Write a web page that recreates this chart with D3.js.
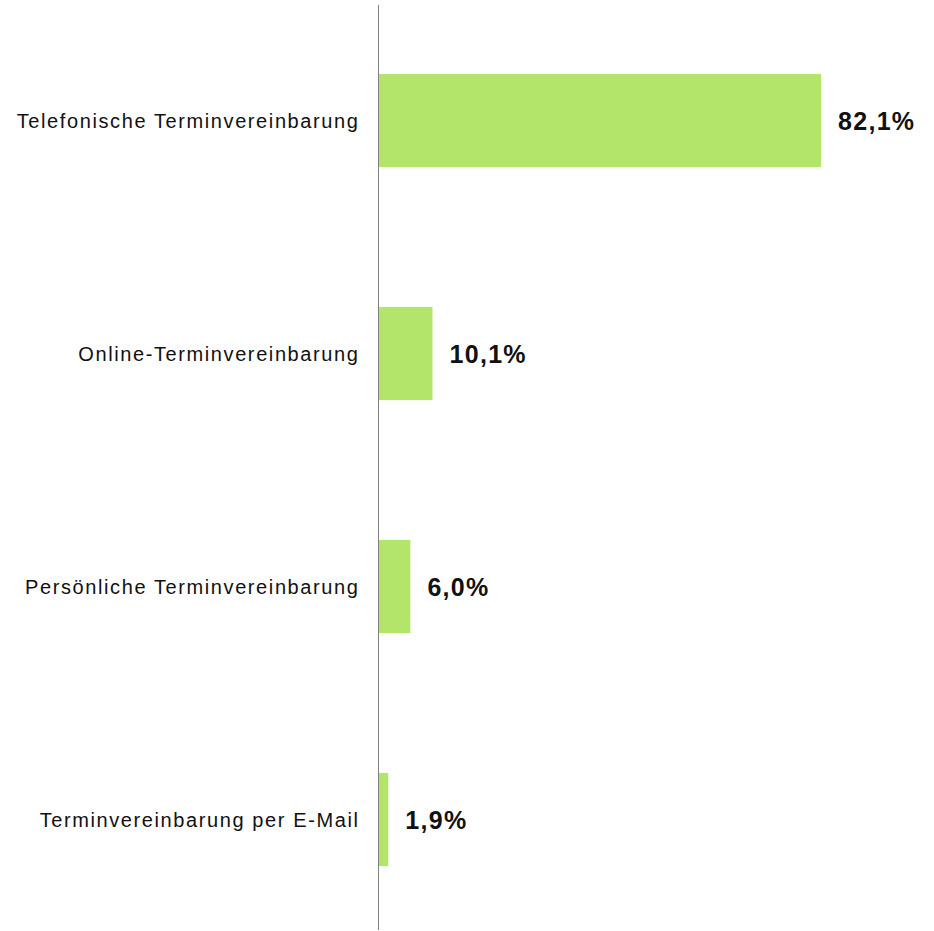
<!DOCTYPE html>
<html>
<head>
<meta charset="utf-8">
<script src="https://cdn.jsdelivr.net/npm/d3@7"></script>
<style>
  body { margin: 0; background: #fff; }
  text { font-family: "Liberation Sans", Arial, sans-serif; }
</style>
</head>
<body>
<div id="chart"></div>
<script>
// data
var categories = [
  "Telefonische Terminvereinbarung",
  "Online-Terminvereinbarung",
  "Persönliche Terminvereinbarung",
  "Terminvereinbarung per E-Mail"
];
var values = [82.1, 10.1, 6.0, 1.9];

var width = 934, height = 931;
var axisX = 378;

var svg = d3.select("#chart").append("svg")
  .attr("width", width)
  .attr("height", height);

var x = d3.scaleLinear()
  .domain([0, 100])
  .range([axisX, axisX + 539.6]);

var y = d3.scaleBand()
  .domain(categories)
  .range([4, 936])
  .paddingInner(0.6)
  .paddingOuter(0.3);

var data = categories.map(function(c, i) { return {cat: c, val: values[i]}; });

svg.selectAll(".bar")
  .data(data)
  .enter().append("rect")
  .attr("class", "bar")
  .attr("x", x(0))
  .attr("y", function(d) { return y(d.cat); })
  .attr("width", function(d) { return x(d.val) - x(0); })
  .attr("height", y.bandwidth())
  .attr("fill", "#b3e56b");

// vertical axis line
svg.append("line")
  .attr("x1", axisX + 0.5).attr("x2", axisX + 0.5)
  .attr("y1", 5).attr("y2", 930)
  .attr("stroke", "#7f7f7f")
  .attr("stroke-width", 1);

// category labels
svg.selectAll(".cat")
  .data(data)
  .enter().append("text")
  .attr("class", "cat")
  .attr("x", axisX - 18.5)
  .attr("y", function(d) { return y(d.cat) + y.bandwidth() / 2; })
  .attr("dy", "0.36em")
  .attr("text-anchor", "end")
  .style("font-size", "20px")
  .style("letter-spacing", "1.6px")
  .attr("fill", "#111")
  .text(function(d) { return d.cat; });

// value labels
svg.selectAll(".val")
  .data(data)
  .enter().append("text")
  .attr("class", "val")
  .attr("x", function(d) { return x(d.val) + 17; })
  .attr("y", function(d) { return y(d.cat) + y.bandwidth() / 2; })
  .attr("dy", "0.36em")
  .style("font-size", "25px")
  .style("font-weight", "bold")
  .style("letter-spacing", "1.3px")
  .attr("fill", "#111")
  .text(function(d) { return d3.format(".1f")(d.val).replace(".", ",") + "%"; });
</script>
</body>
</html>
